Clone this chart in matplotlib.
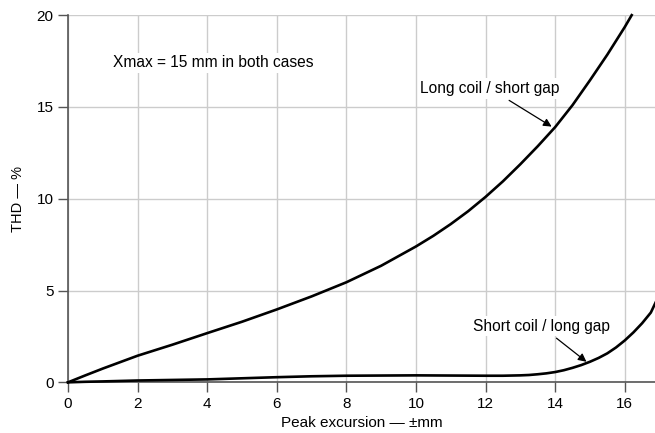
import matplotlib.pyplot as plt

plt.rcParams['font.family'] = ['Liberation Sans', 'DejaVu Sans']

# long coil / short gap
long_x = [0, 0.5, 1, 1.5, 2, 3, 4, 5, 6, 7, 8, 9, 10, 10.5, 11, 11.5, 12,
          12.5, 13, 13.5, 14, 14.5, 15, 15.5, 16, 16.2]
long_y = [0, 0.38, 0.75, 1.1, 1.45, 2.05, 2.68, 3.3, 3.97, 4.68, 5.45, 6.35,
          7.4, 7.98, 8.62, 9.32, 10.1, 10.95, 11.88, 12.86, 13.9, 15.1, 16.45,
          17.85, 19.35, 20.0]

# short coil / long gap
short_x = [0, 0.5, 1, 2, 3, 4, 5, 6, 7, 8, 9, 10, 11, 12, 12.5, 13, 13.25,
           13.5, 13.75, 14, 14.25, 14.5, 14.75, 15, 15.25, 15.5, 15.75, 16,
           16.25, 16.5, 16.75, 16.9]
short_y = [0, 0.03, 0.05, 0.1, 0.13, 0.16, 0.22, 0.28, 0.33, 0.36, 0.37, 0.38,
           0.37, 0.36, 0.36, 0.38, 0.4, 0.44, 0.49, 0.56, 0.66, 0.79, 0.94,
           1.12, 1.33, 1.58, 1.9, 2.28, 2.72, 3.22, 3.8, 4.4]

x_ticks = [0, 2, 4, 6, 8, 10, 12, 14, 16]
y_ticks = [0, 5, 10, 15, 20]

fig = plt.figure(figsize=(6.55, 4.33), dpi=100)
ax = fig.add_axes([0.1038, 0.117, 0.8962, 0.848])

ax.plot(long_x, long_y, color='black', lw=1.9, zorder=3, clip_on=False,
        solid_joinstyle='round')
ax.plot(short_x, short_y, color='black', lw=1.9, zorder=3, clip_on=False,
        solid_joinstyle='round')

ax.set_xlim(0, 16.87)
ax.set_ylim(0, 20)
ax.set_xticks(x_ticks)
ax.set_yticks(y_ticks)
ax.grid(True, color='#cccccc', lw=1)
ax.set_axisbelow(True)

for s in ['top', 'right']:
    ax.spines[s].set_visible(False)
for s in ['left', 'bottom']:
    ax.spines[s].set_color('#555555')
    ax.spines[s].set_linewidth(1.2)
ax.tick_params(length=7.5, width=1, color='#555555', labelsize=11, pad=3)

ax.set_xlabel('Peak excursion \u2014 \u00b1mm', fontsize=11, labelpad=4)
ax.set_ylabel('THD \u2014 %', fontsize=10.5, labelpad=8)

box = dict(facecolor='white', edgecolor='none', pad=2)
ax.text(1.29, 17.4, 'Xmax = 15 mm in both cases', fontsize=11.2,
        ha='left', va='center', bbox=box, zorder=4)

arrow = dict(arrowstyle='-|>', color='black', lw=0.9, mutation_scale=12,
             shrinkA=2, shrinkB=0)
ax.annotate('Long coil / short gap', xy=(13.9, 13.93), xytext=(12.13, 16.0),
            fontsize=11.2, ha='center', va='center', bbox=box,
            arrowprops=arrow, zorder=4)
ax.annotate('Short coil / long gap', xy=(14.9, 1.12), xytext=(13.6, 3.06),
            fontsize=11.2, ha='center', va='center', bbox=box,
            arrowprops=arrow, zorder=4)

fig.savefig('out.png', dpi=100)
